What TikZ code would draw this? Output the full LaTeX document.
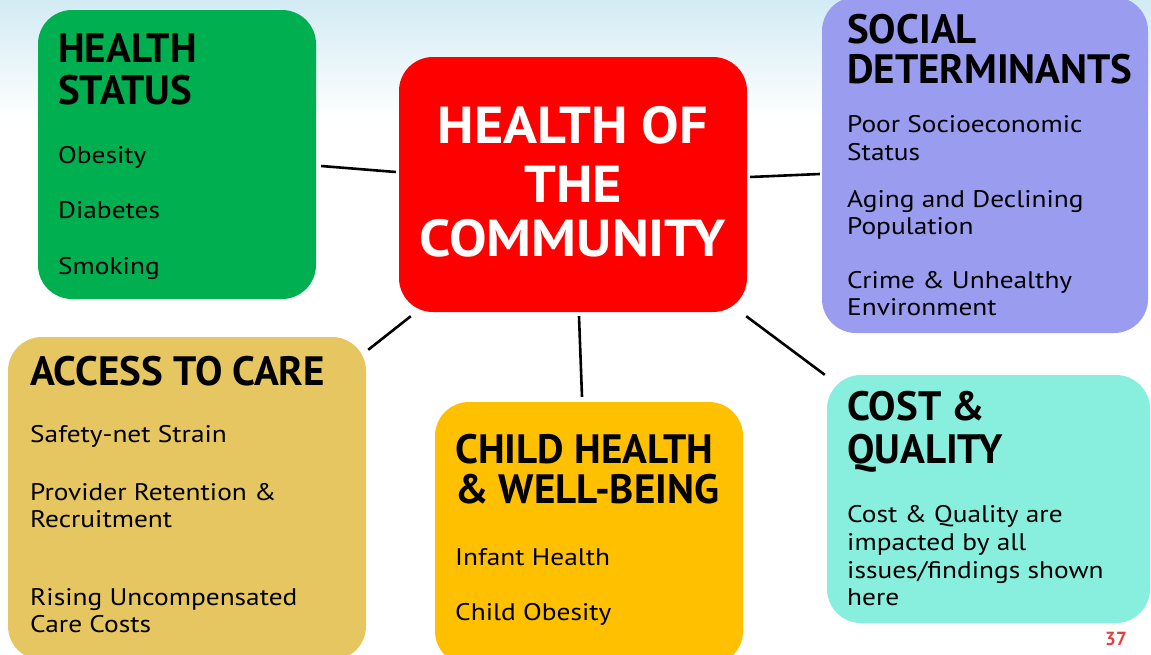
\documentclass[tikz,border=0pt]{standalone}
\usepackage{fontspec}
\setmainfont{PT Sans}
\newfontfamily\itemfont[FakeStretch=1.14]{PT Sans}
\newfontfamily\ctrfont[FakeStretch=1.08]{PT Sans}
\definecolor{bgblue}{HTML}{D3EBF4}
\definecolor{cgreen}{HTML}{00B050}
\definecolor{cred}{HTML}{FF0000}
\definecolor{cpurple}{HTML}{9A9CEF}
\definecolor{ctan}{HTML}{E6C660}
\definecolor{cgold}{HTML}{FFC000}
\definecolor{caqua}{HTML}{88EEDD}
\definecolor{cnum}{HTML}{E53E3E}
\tikzset{
  box/.style={rounded corners=34pt, inner sep=0pt, draw=none},
  conn/.style={line width=2.6pt, black},
  ttl/.style={anchor=base west, inner sep=0pt, font=\fontsize{41}{41}\selectfont\bfseries},
  itm/.style={anchor=base west, inner sep=0pt, font=\fontsize{24}{24}\itemfont},
  ctr/.style={anchor=base, inner sep=0pt, text=white, font=\fontsize{52}{52}\ctrfont\bfseries},
}
\newcommand\tl[4]{\node[#4] (#1) at (#2) {#3};}
\begin{document}
\begin{tikzpicture}[x=1pt,y=-1pt]
\useasboundingbox (0,0) rectangle (1151,654);
\fill[white] (0,0) rectangle (1151,654);
\shade[top color=bgblue, bottom color=white] (0,0) rectangle (1151,120);
% boxes
\node[box, fill=cgreen, minimum width=278pt, minimum height=289pt] (hs) at (177,154.5) {};
\node[box, fill=cred, minimum width=348pt, minimum height=255pt] (cm) at (573,184.5) {};
\node[box, fill=cpurple, minimum width=326pt, minimum height=336pt] (sd) at (985,165) {};
\node[box, fill=ctan, minimum width=358pt, minimum height=323pt] (ac) at (187,498.5) {};
\node[box, fill=cgold, minimum width=308pt, minimum height=263pt] (ch) at (589,533.5) {};
\node[box, fill=caqua, minimum width=323pt, minimum height=248pt] (cq) at (988.5,499) {};
% connectors
\draw[conn] ([xshift=5pt,yshift=-11.5pt]hs.east) -- ([xshift=-3pt,yshift=12.5pt]cm.west);
\draw[conn] ([xshift=3pt,yshift=7.5pt]cm.east) -- ([xshift=-2pt,yshift=-9pt]sd.west);
\draw[conn] ([xshift=12pt,yshift=-4pt]cm.south west) -- ([xshift=2pt,yshift=-13pt]ac.north east);
\draw[conn] ([xshift=6pt,yshift=-4pt]cm.south) -- ([xshift=-7pt,yshift=5pt]ch.north);
\draw[conn] ([xshift=-1pt,yshift=-4pt]cm.south east) -- ([xshift=-2pt]cq.north west);
% center
\tl{c1}{573,143}{HEALTH OF}{ctr}
\tl{c2}{573,202}{THE}{ctr}
\tl{c3}{573,256}{COMMUNITY}{ctr}
% health status
\tl{h1}{58,62}{HEALTH}{ttl}
\tl{h2}{58,104}{STATUS}{ttl}
\tl{h3}{58,163}{Obesity}{itm}
\tl{h4}{58,218}{Diabetes}{itm}
\tl{h5}{58,274}{Smoking}{itm}
% social determinants
\tl{s1}{847,43}{SOCIAL}{ttl}
\tl{s2}{847,83}{DETERMINANTS}{ttl}
\tl{s3}{847,132}{Poor Socioeconomic}{itm}
\tl{s4}{847,160}{Status}{itm}
\tl{s5}{847,207}{Aging and Declining}{itm}
\tl{s6}{847,234}{Population}{itm}
\tl{s7}{847,288}{Crime \& Unhealthy}{itm}
\tl{s8}{847,315}{Environment}{itm}
% access to care
\tl{a1}{30,385}{ACCESS TO CARE}{ttl}
\tl{a2}{30,442}{Safety-net Strain}{itm}
\tl{a3}{30,500}{Provider Retention \&}{itm}
\tl{a4}{30,527}{Recruitment}{itm}
\tl{a5}{30,605}{Rising Uncompensated}{itm}
\tl{a6}{30,632}{Care Costs}{itm}
% child health
\tl{k1}{455,463}{CHILD HEALTH}{ttl}
\tl{k2}{455,503}{\& WELL-BEING}{ttl}
\tl{k3}{455,565}{Infant Health}{itm}
\tl{k4}{455,620}{Child Obesity}{itm}
% cost & quality
\tl{q1}{847,420}{COST \&}{ttl}
\tl{q2}{847,463}{QUALITY}{ttl}
\tl{q3}{847,522}{Cost \& Quality are}{itm}
\tl{q4}{847,550}{impacted by all}{itm}
\tl{q5}{847,578}{issues/findings shown}{itm}
\tl{q6}{847,605}{here}{itm}
% page number
\node[anchor=base, inner sep=0pt, text=cnum, font=\fontsize{19}{19}\selectfont\bfseries] (pn) at (1116,645) {37};
\end{tikzpicture}
\end{document}
